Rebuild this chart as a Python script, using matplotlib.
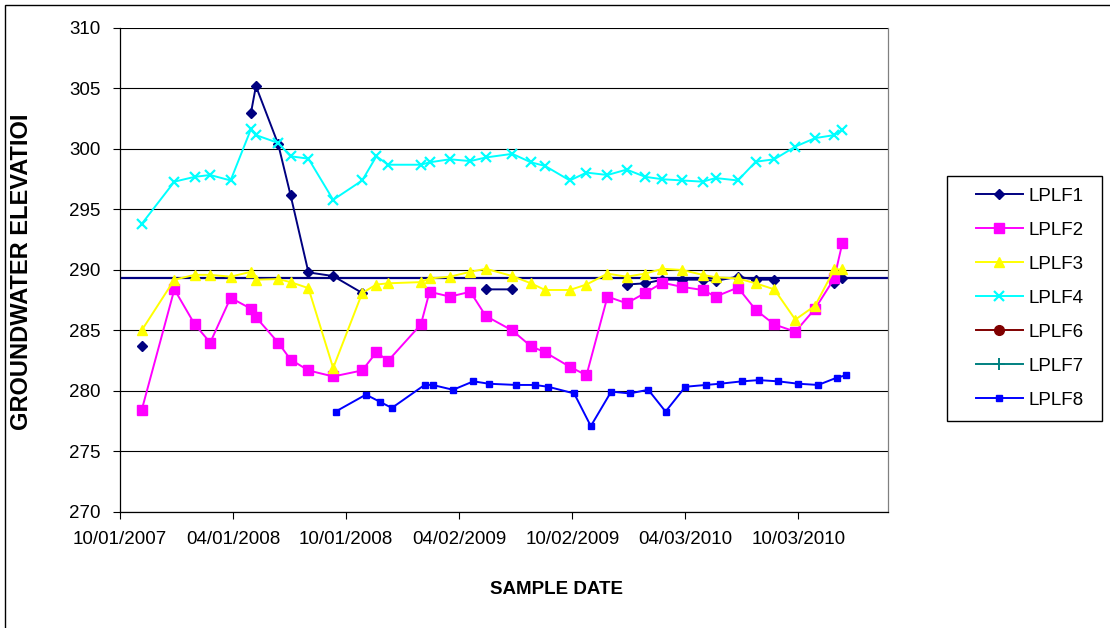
import numpy as np
import matplotlib
matplotlib.use("Agg")
import matplotlib.pyplot as plt
import matplotlib.dates as mdates
from matplotlib.patches import Rectangle

plt.rcParams['font.family'] = ['Liberation Sans', 'DejaVu Sans']

# Sampling dates shared by wells LPLF1 - LPLF4
sample_dates = np.array([
    '2007-11-05', '2007-12-28', '2008-01-30', '2008-02-24', '2008-03-28',
    '2008-04-30', '2008-05-08', '2008-06-13', '2008-07-03', '2008-08-01',
    '2008-09-10', '2008-10-27', '2008-11-19', '2008-12-08', '2009-01-30',
    '2009-02-13', '2009-03-18', '2009-04-20', '2009-05-15', '2009-06-27',
    '2009-07-27', '2009-08-19', '2009-09-28', '2009-10-25', '2009-11-28',
    '2009-12-29', '2010-01-28', '2010-02-25', '2010-03-29', '2010-05-01',
    '2010-05-22', '2010-06-27', '2010-07-26', '2010-08-25', '2010-09-28',
    '2010-10-30', '2010-11-30', '2010-12-13'], dtype='datetime64[D]')

nan = np.nan
lplf1 = [283.7, nan, nan, nan, nan, 303.0, 305.2, 300.4, 296.2, 289.8,
         289.5, 288.1, nan, nan, nan, nan, nan, nan, 288.4, 288.4,
         nan, nan, nan, nan, nan, 288.8, 288.9, 289.2, 289.2, 289.2,
         289.1, 289.45, 289.2, 289.2, nan, nan, 288.9, 289.3]
lplf2 = [278.4, 288.4, 285.5, 284.0, 287.7, 286.8, 286.1, 284.0, 282.6, 281.7,
         281.2, 281.7, 283.2, 282.5, 285.5, 288.2, 287.8, 288.2, 286.2, 285.0,
         283.7, 283.2, 282.0, 281.3, 287.8, 287.25, 288.1, 288.95, 288.6, 288.35,
         287.8, 288.55, 286.7, 285.5, 284.9, 286.8, 289.3, 292.2]
lplf3 = [285.0, 289.2, 289.6, 289.6, 289.45, 289.85, 289.2, 289.25, 289.0, 288.5,
         281.9, 288.1, 288.8, 288.9, 289.0, 289.3, 289.45, 289.85, 290.1, 289.5,
         288.9, 288.35, 288.35, 288.8, 289.7, 289.45, 289.7, 290.1, 290.0, 289.6,
         289.4, 289.3, 288.9, 288.4, 285.9, 287.05, 290.05, 290.05]
lplf4 = [293.8, 297.3, 297.7, 297.85, 297.4, 301.65, 301.15, 300.5, 299.4, 299.2,
         295.8, 297.4, 299.4, 298.7, 298.7, 298.9, 299.15, 299.0, 299.3, 299.6,
         298.9, 298.6, 297.4, 298.05, 297.85, 298.3, 297.7, 297.5, 297.4, 297.3,
         297.6, 297.4, 298.95, 299.15, 300.2, 300.9, 301.15, 301.6]

# LPLF6 and LPLF7 have no recorded elevations in this period
lplf6 = []
lplf7 = []

lplf8_dates = np.array([
    '2008-09-14', '2008-11-02', '2008-11-25', '2008-12-14', '2009-02-05',
    '2009-02-18', '2009-03-23', '2009-04-25', '2009-05-20', '2009-07-03',
    '2009-08-02', '2009-08-24', '2009-10-05', '2009-11-01', '2009-12-04',
    '2010-01-03', '2010-02-02', '2010-03-02', '2010-04-03', '2010-05-06',
    '2010-05-29', '2010-07-04', '2010-07-31', '2010-08-31', '2010-10-03',
    '2010-11-04', '2010-12-04', '2010-12-19'], dtype='datetime64[D]')
lplf8 = [278.3, 279.7, 279.1, 278.6, 280.5, 280.5, 280.1, 280.8, 280.6, 280.5,
         280.5, 280.35, 279.8, 277.1, 279.95, 279.8, 280.1, 278.3, 280.35, 280.5,
         280.6, 280.8, 280.9, 280.8, 280.6, 280.5, 281.1, 281.3]

reference_level = 289.3

axis_start = np.datetime64('2007-10-01')
axis_end = np.datetime64('2011-02-25')
tick_step_days = 183
y_ticks = [270, 275, 280, 285, 290, 295, 300, 305, 310]

W, H = 1110, 628
fig = plt.figure(figsize=(W / 100, H / 100), dpi=100)
ax = fig.add_axes([120 / W, 1 - 512 / H, (888 - 120) / W, (512 - 28) / H])

ax.set_ylim(270, 310)
ax.set_yticks(y_ticks)
ax.yaxis.grid(True, color='black', linewidth=0.8)
ax.set_axisbelow(True)

ax.axhline(reference_level, color='#000080', linewidth=1.6, zorder=1.5)

no_dates = np.array([], dtype='datetime64[D]')
series = [
    ('LPLF1', sample_dates, lplf1, dict(color='#000080', marker='D', markersize=5.0, lw=1.4)),
    ('LPLF2', sample_dates, lplf2, dict(color='#FF00FF', marker='s', markersize=7.5, lw=1.4)),
    ('LPLF3', sample_dates, lplf3, dict(color='#FFFF00', marker='^', markersize=7.5, lw=1.4)),
    ('LPLF4', sample_dates, lplf4, dict(color='#00FFFF', marker='x', markersize=7.5, lw=1.4,
                                        markeredgewidth=1.6)),
    ('LPLF6', no_dates, lplf6, dict(color='#800000', marker='o', markersize=7, lw=1.4)),
    ('LPLF7', no_dates, lplf7, dict(color='#008080', marker='+', markersize=8, lw=1.4,
                                    markeredgewidth=1.4)),
    ('LPLF8', lplf8_dates, lplf8, dict(color='#0000FF', marker='s', markersize=4.0, lw=1.4)),
]

handles = []
for name, d, v, style in series:
    h, = ax.plot(d, np.asarray(v, dtype=float), label=name, **style)
    handles.append(h)

ticks = axis_start + np.arange(7) * np.timedelta64(tick_step_days, 'D')
ax.set_xlim(axis_start, axis_end)
ax.set_xticks(ticks)
ax.xaxis.set_major_formatter(mdates.DateFormatter('%m/%d/%Y'))

ax.tick_params(axis='both', labelsize=13.5, length=5, width=0.8, color='black', direction='out')
ax.tick_params(axis='x', pad=9)
ax.tick_params(axis='y', pad=9)

for s in ('left', 'bottom'):
    ax.spines[s].set_color('black')
    ax.spines[s].set_linewidth(0.9)
ax.spines['right'].set_color('#808080')
ax.spines['right'].set_linewidth(0.9)
ax.spines['top'].set_visible(False)

ax.set_xlabel('SAMPLE DATE', fontsize=13.5, fontweight='bold', va='center')
ax.xaxis.set_label_coords((556 - 120) / 768, (512 - 590) / 484)
ax.set_ylabel('GROUNDWATER ELEVATIOI', fontsize=17, fontweight='bold', va='center')
ax.yaxis.set_label_coords((22 - 120) / 768, (512 - 272) / 484)

# Legend with its own frame
fig.add_artist(Rectangle((947 / W, 1 - 421 / H), (1102 - 947) / W, (421 - 176) / H,
                         transform=fig.transFigure, fill=False, edgecolor='black', linewidth=1.0))
fig.legend(handles, [h.get_label() for h in handles], loc='upper left',
           bbox_to_anchor=(976 / W, 1 - 187.5 / H), frameon=False, fontsize=13.5,
           borderpad=0, borderaxespad=0, handlelength=2.5, handletextpad=0.3,
           labelspacing=0.9)

# Chart area border
fig.add_artist(Rectangle((5 / W, -0.05), 1.2, 1 - 5 / H + 0.05, transform=fig.transFigure,
                         fill=False, edgecolor='black', linewidth=1.0))

fig.savefig('out.png', dpi=100)
